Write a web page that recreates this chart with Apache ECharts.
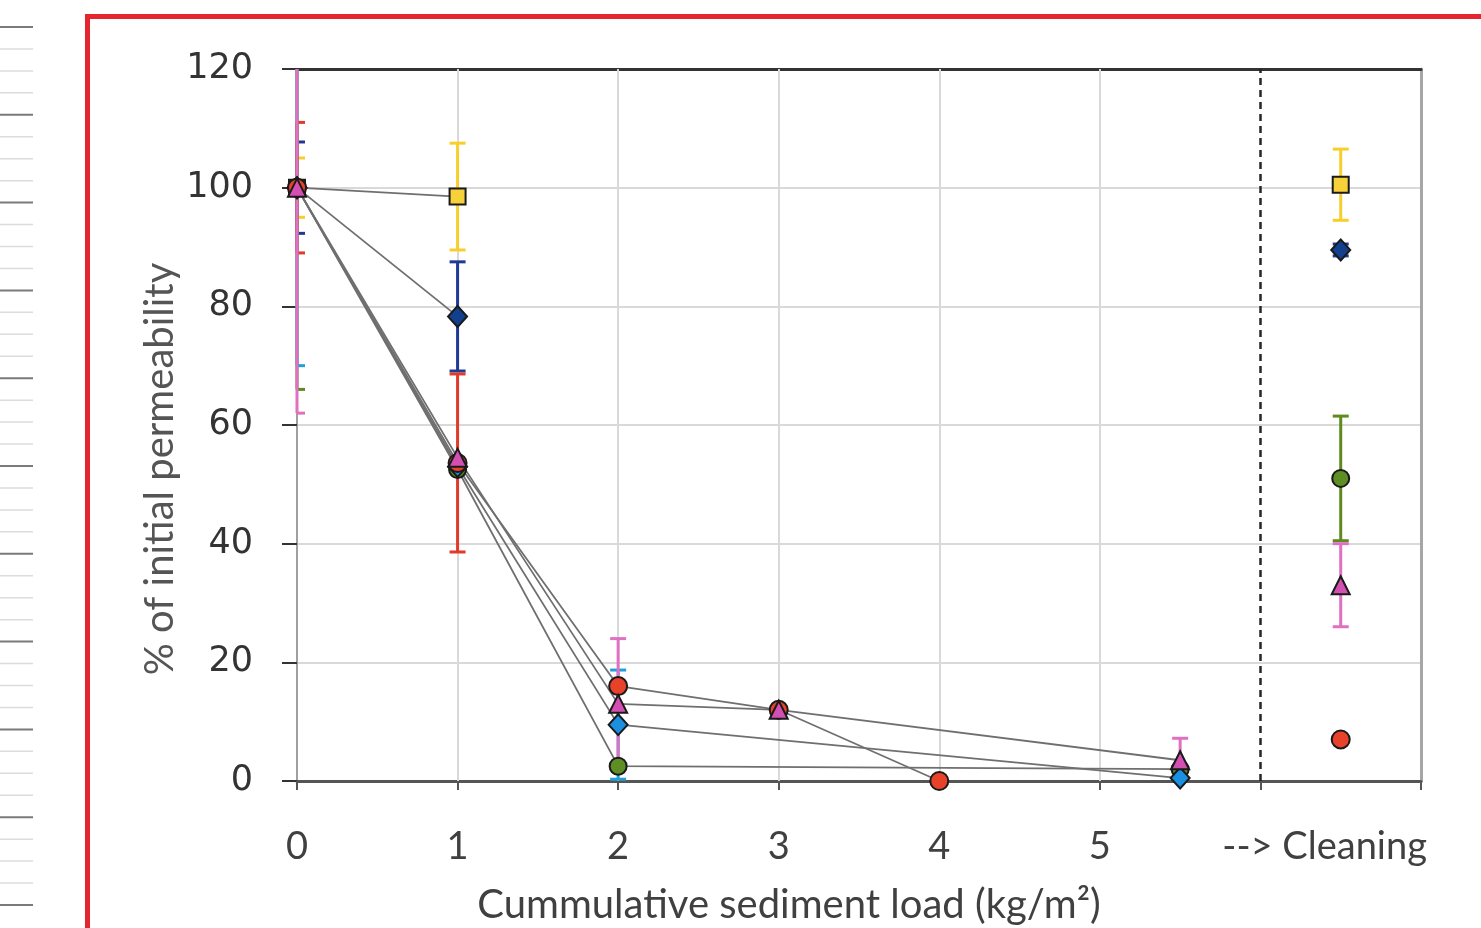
<!DOCTYPE html>
<html>
<head>
<meta charset="utf-8">
<script src="https://cdn.jsdelivr.net/npm/echarts@6/dist/echarts.min.js"></script>
<style>
html,body{margin:0;padding:0;background:#fff;}
#chart{width:1481px;height:928px;}
</style>
</head>
<body>
<div id="chart"></div>
<script>
// ---------- data ----------
const xTickValues = [0, 1, 2, 3, 4, 5];
const cleaningLabel = '--> Cleaning';
const cleaningLabelPos = 6.4;
const cleaningX = 6.5;
const dividerX = [6];
const gridX = [1, 2, 3, 4, 5];
const yTicks = [0, 20, 40, 60, 80, 100, 120];
const xAxisTitle = 'Cummulative sediment load (kg/m²)';
const yAxisTitle = '% of initial permeability';

const yellowX = [0, 1];
const yellowY = [100, 98.5];
const yellowErr = [5, 9];
const yellowClean = [100.5, 6];

const darkBlueX = [0, 1];
const darkBlueY = [100, 78.3];
const darkBlueErr = [7.7, 9.2];
const darkBlueClean = [89.5, 1];

const greenX = [0, 1, 2, 5.5];
const greenY = [100, 52.5, 2.5, 2];
const greenErr = [34, 0, 0, 0];
const greenClean = [51, 10.5];

const lightBlueX = [0, 1, 2, 5.5];
const lightBlueY = [100, 53, 9.5, 0.5];
const lightBlueErr = [30, 0, 9.2, 0];

const redX = [0, 1, 2, 3, 4];
const redY = [100, 53.6, 16, 12, 0];
const redErr = [11, 15, 0, 0, 0];
const redClean = [7, 0];

const pinkX = [0, 1, 2, 3, 5.5];
const pinkY = [100, 54.5, 13, 12, 3.5];
const pinkErr = [38, 0, 11, 0, 3.7];
const pinkClean = [33, 7];

const yMin = 0, yMax = 120, xMin = 0, xMax = 7;

// ---------- styles ----------
const groups = [
  {name:'yellow', x:yellowX, y:yellowY, err:yellowErr, clean:yellowClean, color:'#f7d13a', errColor:'#f8cf2a', symbol:'rect', size:16},
  {name:'darkBlue', x:darkBlueX, y:darkBlueY, err:darkBlueErr, clean:darkBlueClean, color:'#12408f', errColor:'#1d3a94', symbol:'diamond', size:[19,21]},
  {name:'green', x:greenX, y:greenY, err:greenErr, clean:greenClean, color:'#5e8e24', errColor:'#5f8a1e', symbol:'circle', size:17},
  {name:'lightBlue', x:lightBlueX, y:lightBlueY, err:lightBlueErr, clean:null, color:'#1b8fe0', errColor:'#23a0d8', symbol:'diamond', size:[19,21]},
  {name:'red', x:redX, y:redY, err:redErr, clean:redClean, color:'#e8432a', errColor:'#e03a2a', symbol:'circle', size:18},
  {name:'pink', x:pinkX, y:pinkY, err:pinkErr, clean:pinkClean, color:'#d44fb2', errColor:'#e070c0', symbol:'triangle', size:18}
];

function errRender(color){
  return function(params, api){
    const x = api.value(0), y = api.value(1), e = api.value(2);
    if (!e) return null;
    const hi = y + e, lo = y - e;
    const top = api.coord([x, Math.min(hi, yMax)]);
    const bot = api.coord([x, Math.max(lo, yMin)]);
    const left = params.coordSys.x;
    const hw = 8;
    const st = {stroke: color, lineWidth: 3};
    const kids = [{type:'line', shape:{x1:top[0], y1:top[1], x2:bot[0], y2:bot[1]}, style:st}];
    const capL = Math.max(top[0] - hw, left);
    if (hi <= yMax) kids.push({type:'line', shape:{x1:capL, y1:top[1], x2:top[0]+hw, y2:top[1]}, style:st});
    if (lo >= yMin) kids.push({type:'line', shape:{x1:capL, y1:bot[1], x2:bot[0]+hw, y2:bot[1]}, style:st});
    return {type:'group', children:kids};
  };
}

const series = [];
series.push({
  type:'line', data:[], silent:true, z:1,
  markLine:{silent:true, z:1, symbol:'none', animation:false, label:{show:false},
    lineStyle:{color:'#d9d9d9', width:2, type:'solid'},
    data: gridX.map(v => ({xAxis:v}))}
});
series.push({
  type:'line', data:[], silent:true, z:1,
  markLine:{silent:true, z:2, symbol:'none', animation:false, label:{show:false},
    lineStyle:{color:'#262626', width:2.5, type:[7,5]},
    data: dividerX.map(v => ({xAxis:v}))}
});

groups.forEach(g => {
  const errData = g.x.map((x,i) => [x, g.y[i], g.err[i]]);
  if (g.clean) errData.push([cleaningX, g.clean[0], g.clean[1]]);
  series.push({
    type:'custom', name:g.name+'Err', clip:false, z:3, silent:true,
    renderItem: errRender(g.errColor), data: errData
  });
});
groups.forEach(g => {
  series.push({
    type:'line', name:g.name, z:4, animation:false,
    data: g.x.map((x,i) => [x, g.y[i]]),
    symbol:g.symbol, symbolSize:g.size, showAllSymbol:true,
    lineStyle:{color:'#6f6f6f', width:1.8},
    itemStyle:{color:g.color, borderColor:'#1a1a1a', borderWidth:2}
  });
  if (g.clean) {
    series.push({
      type:'scatter', name:g.name+'Clean', z:5, animation:false,
      data:[[cleaningX, g.clean[0]]],
      symbol:g.symbol, symbolSize:g.size,
      itemStyle:{color:g.color, borderColor:'#1a1a1a', borderWidth:2, opacity:1}
    });
  }
});

const graphics = [];
for (let i = 0; i <= 10; i++) {
  const y = 27 + i * 87.8;
  graphics.push({type:'line', shape:{x1:0, y1:y, x2:33, y2:y}, style:{stroke:'#7a7a7a', lineWidth:2}, silent:true});
  if (i < 10) {
    for (let k = 1; k < 4; k++) {
      const yy = y + k * 21.95;
      graphics.push({type:'line', shape:{x1:0, y1:yy, x2:33, y2:yy}, style:{stroke:'#dcdcdc', lineWidth:1.5}, silent:true});
    }
  }
}
graphics.push({type:'rect', shape:{x:87.5, y:16.5, width:1500, height:1000}, style:{fill:'none', stroke:'#e5262f', lineWidth:5}, silent:true, z:100});
graphics.push({type:'text', x:789, y:905, silent:true,
  style:{text:xAxisTitle, align:'center', verticalAlign:'middle', font:'40px Lato', fill:'#404040'}});
graphics.push({type:'text', x:160, y:469, rotation:Math.PI/2, silent:true,
  style:{text:yAxisTitle, align:'center', verticalAlign:'middle', font:'40px Lato', fill:'#555555'}});

const chart = echarts.init(document.getElementById('chart'), null, {renderer:'canvas'});
chart.setOption({
  animation:false,
  backgroundColor:'#ffffff',
  graphic: graphics,
  grid:{left:297, right:60, top:69, bottom:147, containLabel:false},
  xAxis:[{
    type:'value', min:xMin, max:xMax, interval:1,
    axisLine:{show:true, onZero:false, lineStyle:{color:'#555555', width:3}},
    axisTick:{show:true, length:9, customValues: xTickValues.concat([6,7]), lineStyle:{color:'#555555', width:2}},
    splitLine:{show:false},
    axisLabel:{
      customValues: xTickValues.concat([cleaningLabelPos]),
      formatter: v => (v === cleaningLabelPos ? cleaningLabel : String(v)),
      margin:47, fontFamily:'Lato', fontSize:38, color:'#404040'
    }
  },{
    type:'value', min:xMin, max:xMax, position:'top',
    axisLine:{show:true, onZero:false, lineStyle:{color:'#333333', width:3}},
    axisTick:{show:false}, axisLabel:{show:false}, splitLine:{show:false}
  }],
  yAxis:[{
    type:'value', min:yMin, max:yMax, interval:20,
    axisLine:{show:true, onZero:false, lineStyle:{color:'#a0a0a0', width:2}},
    axisTick:{show:true, inside:false, length:15, lineStyle:{color:'#333333', width:2}},
    splitLine:{show:true, lineStyle:{color:'#d9d9d9', width:2}},
    axisLabel:{margin:44, fontFamily:'DejaVu Sans', fontSize:35, color:'#333333',
      customValues: yTicks}
  },{
    type:'value', min:yMin, max:yMax, position:'right',
    axisLine:{show:true, onZero:false, lineStyle:{color:'#a6a6a6', width:3}},
    axisTick:{show:false}, axisLabel:{show:false}, splitLine:{show:false}
  }],
  series: series
});
</script>
</body>
</html>
